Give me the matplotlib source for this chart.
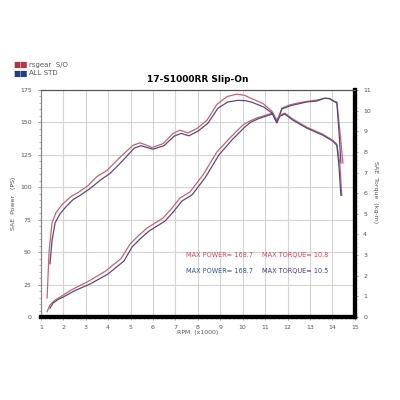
import numpy as np
import matplotlib.pyplot as plt
from matplotlib.ticker import MultipleLocator

# --- data (rpm x1000, power PS, torque kg-m) ---
rpm_pw_red = [1.28, 1.41, 1.64, 1.86, 2.35, 3.11, 3.86, 4.58, 4.98, 5.34, 5.74, 6.45, 6.85, 7.21,
              7.65, 8.23, 8.85, 9.43, 10.01, 10.32, 10.63, 10.99, 11.34, 11.52, 11.75, 12.1,
              12.46, 12.86, 13.31, 13.66, 13.89, 14.07, 14.2, 14.33, 14.47]
pw_red = [4.1, 9.3, 13.1, 15.4, 20.8, 27.4, 35.1, 45.1, 56.3, 62.5, 68.6, 76.3, 84.0, 91.8,
          96.4, 109.5, 127.2, 138.0, 148.0, 151.1, 153.4, 155.4, 157.3, 150.3, 161.1, 163.5,
          165.0, 166.2, 167.3, 168.7, 168.5, 166.5, 165.8, 144.2, 118.7]

rpm_pw_blue = [1.41, 1.55, 1.77, 2.0, 2.48, 3.24, 4.0, 4.71, 5.07, 5.42, 5.83, 6.54, 6.94, 7.29,
               7.74, 8.32, 8.94, 9.52, 10.1, 10.37, 10.68, 10.99, 11.34, 11.52, 11.75, 12.1,
               12.46, 12.86, 13.31, 13.66, 13.89, 14.07, 14.2, 14.29, 14.38]
pw_blue = [6.9, 10.8, 13.5, 15.4, 20.0, 25.8, 33.2, 43.2, 54.0, 60.1, 66.3, 74.0, 81.7, 89.4,
           94.1, 107.2, 124.9, 136.5, 146.5, 150.3, 152.7, 154.6, 156.5, 149.6, 160.4, 162.7,
           164.2, 165.8, 166.5, 168.7, 168.1, 166.2, 165.0, 144.2, 118.7]

rpm_tq_red = [1.28, 1.37, 1.5, 1.68, 1.95, 2.35, 2.66, 3.11, 3.51, 3.95, 4.53, 5.11, 5.42, 5.73,
              5.96, 6.45, 6.89, 7.2, 7.56, 7.96, 8.41, 8.85, 9.3, 9.74, 10.1, 10.32, 10.9, 11.3,
              11.52, 11.65, 11.88, 12.24, 12.86, 13.57, 14.02, 14.2, 14.33, 14.42]
tq_red = [0.92, 3.2, 4.57, 5.06, 5.45, 5.84, 6.03, 6.37, 6.81, 7.1, 7.74, 8.32, 8.44, 8.32,
          8.21, 8.4, 8.89, 9.05, 8.92, 9.13, 9.54, 10.3, 10.68, 10.8, 10.74, 10.62, 10.35, 9.98,
          9.54, 9.78, 9.88, 9.59, 9.2, 8.86, 8.56, 8.37, 7.45, 5.89]

rpm_tq_blue = [1.41, 1.5, 1.64, 1.86, 2.13, 2.44, 2.75, 3.2, 3.64, 4.09, 4.62, 5.16, 5.47, 5.78,
               6.0, 6.49, 6.94, 7.25, 7.6, 8.0, 8.45, 8.9, 9.34, 9.79, 10.14, 10.41, 10.95, 11.31,
               11.53, 11.66, 11.88, 12.24, 12.86, 13.57, 14.02, 14.2, 14.29, 14.38]
tq_blue = [2.58, 3.7, 4.57, 5.01, 5.35, 5.69, 5.89, 6.23, 6.62, 6.96, 7.54, 8.18, 8.3, 8.2,
           8.13, 8.3, 8.76, 8.9, 8.78, 9.0, 9.39, 10.12, 10.42, 10.5, 10.48, 10.41, 10.17, 9.88,
           9.44, 9.73, 9.83, 9.54, 9.15, 8.81, 8.52, 8.32, 7.35, 5.89]

RED = '#c86272'
BLUE = '#574c7a'
TXT = '#555555'

fig = plt.figure(figsize=(4, 4), dpi=100)
ax = fig.add_axes([0.102, 0.2075, 0.785, 0.5675])
ax2 = ax.twinx()

ax.plot(rpm_pw_red, pw_red, color=RED, lw=0.9)
ax.plot(rpm_pw_blue, pw_blue, color=BLUE, lw=0.9)
ax2.plot(rpm_tq_red, tq_red, color=RED, lw=0.9)
ax2.plot(rpm_tq_blue, tq_blue, color=BLUE, lw=0.9)

ax.set_xlim(1, 15)
ax.set_ylim(0, 175)
ax2.set_ylim(0, 11)

ax.set_xticks(range(1, 16))
ax.set_yticks(range(0, 176, 25))
ax2.set_yticks(range(0, 12))
ax.xaxis.set_minor_locator(MultipleLocator(0.2))
ax.yaxis.set_minor_locator(MultipleLocator(5))
ax2.yaxis.set_minor_locator(MultipleLocator(0.2))

ax.grid(True, color='#d4d4d4', lw=0.8)
ax.set_axisbelow(True)

ax.tick_params(labelsize=4.5, labelcolor=TXT, length=2, width=0.5, colors='#777777', pad=4.5)
ax.tick_params(axis='x', pad=3.5)
ax.tick_params(which='minor', length=1.2, width=0.4, colors='#777777')
ax2.tick_params(labelsize=4.5, labelcolor=TXT, length=2, width=0.5, colors='#777777', pad=4)
ax2.tick_params(which='minor', length=1.2, width=0.4, colors='#777777')

for a in (ax, ax2):
    a.spines['bottom'].set_linewidth(3)
    a.spines['bottom'].set_color('black')
    a.spines['right'].set_linewidth(3)
    a.spines['right'].set_color('black')
    a.spines['left'].set_linewidth(0.8)
    a.spines['left'].set_color('#888888')
    a.spines['top'].set_linewidth(0.8)
    a.spines['top'].set_color('#555555')

ax.set_xlabel('RPM  (x1000)', fontsize=4.5, color=TXT, labelpad=0.5)
ax.set_ylabel('SAE  Power   (PS)', fontsize=4.5, color=TXT, labelpad=3)
ax2.set_ylabel('SAE  Torque  (kg-m)', fontsize=4.5, color=TXT, rotation=270, labelpad=9)
ax2.yaxis.set_label_coords(1.075, 0.55)

ax.set_title('17-S1000RR Slip-On', fontsize=6.5, fontweight='bold', pad=6)

# max value annotations
ax.text(0.464, 0.263, 'MAX POWER= 168.7', transform=ax.transAxes, color='#d04858',
        fontsize=4.7)
ax.text(0.704, 0.263, 'MAX TORQUE= 10.8', transform=ax.transAxes, color='#d04858',
        fontsize=4.7)
ax.text(0.464, 0.192, 'MAX POWER= 168.7', transform=ax.transAxes, color='#3452a0',
        fontsize=4.7)
ax.text(0.704, 0.192, 'MAX TORQUE= 10.5', transform=ax.transAxes, color='#483c78',
        fontsize=4.7)

# legend
fig.text(0.033, 0.838, '■■', color='#c03040', fontsize=5.5, va='center')
fig.text(0.073, 0.838, 'rsgear  S/O', color=TXT, fontsize=5, va='center')
fig.text(0.033, 0.817, '■■', color='#203c90', fontsize=5.5, va='center')
fig.text(0.073, 0.817, 'ALL STD', color=TXT, fontsize=5, va='center')

fig.savefig('out.png', dpi=100)
